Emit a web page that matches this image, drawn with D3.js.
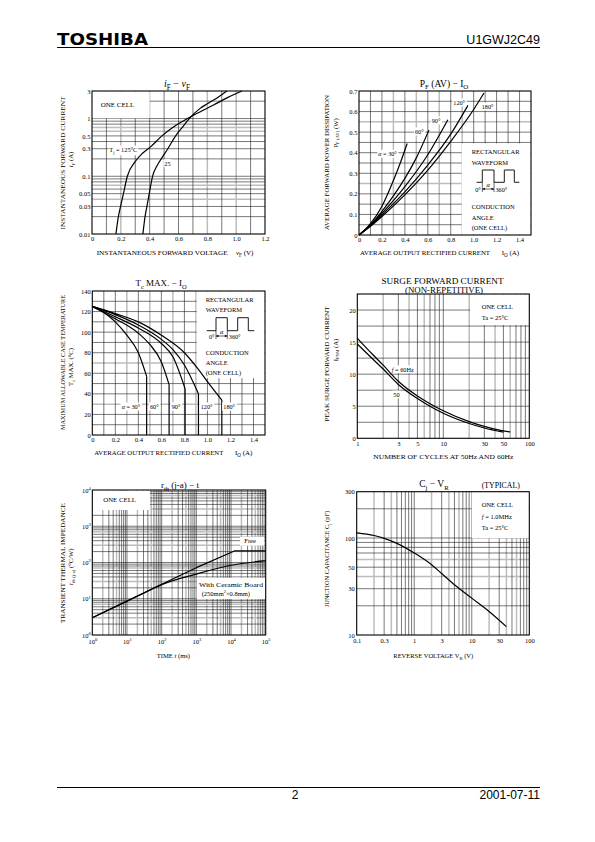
<!DOCTYPE html>
<html><head><meta charset="utf-8">
<script src="https://cdn.jsdelivr.net/npm/d3@7"></script>
<style>body{margin:0;background:#fff}svg{display:block}</style>
</head><body>
<svg id="page" width="595" height="842"></svg>
<script>
// ---------------- DATA ----------------
// Chart 1: iF - vF
const ifvfXTicks = [0, 0.2, 0.4, 0.6, 0.8, 1.0, 1.2];
const ifvfXLabels = ["0", "0.2", "0.4", "0.6", "0.8", "1.0", "1.2"];
const ifvfYTicks = [0.01, 0.03, 0.05, 0.1, 0.3, 0.5, 1, 3];
const ifvfYLabels = ["0.01", "0.03", "0.05", "0.1", "0.3", "0.5", "1", "3"];
const ifvfGridX = [0.1, 0.3, 0.4, 0.5, 0.6, 0.7, 0.9, 1.1];
const ifvfGridXGray = [0.2, 0.8, 1.0];
const ifvfGridY = [0.02, 0.03, 0.05, 0.06, 0.08, 0.09, 0.1, 0.2, 0.3, 0.4, 0.5, 0.8, 0.9, 1, 2];
const ifvfGridYGray = [0.04, 0.07, 0.6, 0.7];
const ifvfTj125 = [[0.166,0.01],[0.183,0.02],[0.198,0.03],[0.218,0.05],[0.245,0.1],[0.30,0.18],[0.35,0.25],[0.404,0.32],[0.485,0.5],[0.56,0.7],[0.63,0.9],[0.72,1.2],[0.84,1.7],[0.94,2.3],[1.04,3.0]];
const ifvfTj25 = [[0.353,0.01],[0.368,0.02],[0.381,0.03],[0.397,0.05],[0.42,0.1],[0.45,0.15],[0.48,0.2],[0.526,0.3],[0.58,0.5],[0.635,0.75],[0.675,1.0],[0.75,1.5],[0.80,1.8],[0.87,2.3],[0.935,3.0]];

// Chart 2: PF(AV) - IO
const pfXTicks = [0, 0.2, 0.4, 0.6, 0.8, 1.0, 1.2, 1.4];
const pfXLabels = ["0", "0.2", "0.4", "0.6", "0.8", "1.0", "1.2", "1.4"];
const pfYTicks = [0, 0.1, 0.2, 0.3, 0.4, 0.5, 0.6, 0.7];
const pfYLabels = ["0", "0.1", "0.2", "0.3", "0.4", "0.5", "0.6", "0.7"];
const pfGridX = [0.1, 0.2, 0.4, 0.6, 0.8, 1.0, 1.1, 1.2, 1.3, 1.4];
const pfGridXGray = [0.3, 0.5, 0.7, 0.9];
const pfGridY = [0.05, 0.1, 0.15, 0.2, 0.3, 0.35, 0.4, 0.45, 0.5, 0.6, 0.65];
const pfGridYGray = [0.25, 0.55];
const pf30 = [[0,0],[0.1,0.055],[0.2,0.14],[0.3,0.265],[0.36,0.35],[0.42,0.445]];
const pf60 = [[0,0],[0.1,0.05],[0.2,0.115],[0.3,0.19],[0.4,0.275],[0.5,0.375],[0.61,0.51]];
const pf90 = [[0,0],[0.1,0.047],[0.2,0.105],[0.4,0.235],[0.6,0.39],[0.775,0.56]];
const pf120 = [[0,0],[0.1,0.045],[0.2,0.098],[0.4,0.21],[0.6,0.34],[0.8,0.49],[0.95,0.63]];
const pf180 = [[0,0],[0.1,0.042],[0.2,0.09],[0.4,0.195],[0.6,0.315],[0.8,0.455],[1.0,0.61],[1.09,0.69]];

// Chart 3: Tc max - IO
const tcXTicks = [0, 0.2, 0.4, 0.6, 0.8, 1.0, 1.2, 1.4];
const tcXLabels = ["0", "0.2", "0.4", "0.6", "0.8", "1.0", "1.2", "1.4"];
const tcYTicks = [0, 20, 40, 60, 80, 100, 120, 140];
const tcYLabels = ["0", "20", "40", "60", "80", "100", "120", "140"];
const tcGridX = [0.1, 0.2, 0.4, 0.6, 0.8, 1.0, 1.1, 1.2, 1.3, 1.4];
const tcGridXGray = [0.3, 0.5, 0.7, 0.9];
const tcGridY = [10, 20, 40, 50, 60, 80, 90, 100, 110, 120, 130];
const tcGridYGray = [30, 70];
const tc30 = [[0,125],[0.1,119],[0.2,110],[0.3,97],[0.4,80],[0.472,57]];
const tc60 = [[0,125],[0.2,113],[0.4,99],[0.5,88],[0.6,71],[0.667,49]];
const tc90 = [[0,125],[0.2,115],[0.4,104],[0.6,89],[0.7,76],[0.806,45]];
const tc120 = [[0,125],[0.2,117],[0.4,107],[0.6,93],[0.7,83],[0.8,68],[0.922,40]];
const tc180 = [[0,125],[0.2,118],[0.4,110],[0.6,97],[0.8,80],[0.92,64],[1.0,52],[1.125,34]];

// Chart 4: Surge forward current
const surgeXTicks = [1, 3, 5, 10, 30, 50, 100];
const surgeXLabels = ["1", "3", "5", "10", "30", "50", "100"];
const surgeYTicks = [0, 5, 10, 15, 20];
const surgeYLabels = ["0", "5", "10", "15", "20"];
const surgeGridX = [3, 5, 7, 8, 9, 10, 30, 50, 70, 80, 90];
const surgeGridXGray = [2, 4, 6, 20, 40, 60];
const surgeGridY = [2.5, 5, 7.5, 10, 12.5, 15, 17.5, 20];
const surge60 = [[1,15.6],[1.5,13.1],[2,11.4],[3,8.9],[5,6.6],[7,5.4],[10,4.3],[20,2.6],[30,1.85],[50,1.15],[60,1.0]];
const surge50 = [[1,14.7],[1.5,12.4],[2,10.8],[3,8.4],[5,6.2],[7,5.0],[10,3.9],[20,2.3],[30,1.6],[50,0.95]];

// Chart 5: rth(j-a) - t
const rthXTicks = [1, 10, 100, 1000, 10000, 100000];
const rthXExp = ["0", "1", "2", "3", "4", "5"];
const rthYTicks = [1, 10, 100, 1000, 10000];
const rthYExp = ["0", "1", "2", "3", "4"];
const rthDecadesX = [1, 10, 100, 1000, 10000];
const rthDecadesY = [1, 10, 100, 1000];
const rthFree = [[1,3.0],[10,8.6],[100,25],[1000,72],[13000,210],[100000,210]];
const rthCeramic = [[1,3.0],[10,8.6],[50,18],[100,24.5],[1000,48],[10000,84],[100000,112]];

// Chart 6: Cj - VR
const cjXTicks = [0.1, 0.3, 1, 3, 10, 30, 100];
const cjXLabels = ["0.1", "0.3", "1", "3", "10", "30", "100"];
const cjYTicks = [10, 30, 50, 100, 300];
const cjYLabels = ["10", "30", "50", "100", "300"];
const cjGridX = [0.3, 0.5, 0.6, 0.7, 0.8, 0.9, 1, 3, 5, 7, 8, 9, 10, 30, 50, 70, 80, 90];
const cjGridXGray = [0.2, 0.4, 2, 4, 6, 20, 40, 60];
const cjGridY = [20, 30, 50, 70, 80, 90, 100, 200];
const cjGridYGray = [40, 60];
const cjCurve = [[0.1,113],[0.2,106],[0.3,99],[0.5,88],[1,70],[2,53],[3,43],[5,33],[10,24],[20,17.5],[40,12.2]];

// ---------------- DRAWING ----------------
const svg = d3.select('#page');
const SERIF = '"Liberation Serif","DejaVu Serif",serif';
const SANS = '"Liberation Sans","DejaVu Sans",sans-serif';

function txt(parent, x, y, parts, opt = {}) {
  const fs = opt.size || 6.5;
  const t = parent.append('text').attr('x', x).attr('y', y)
    .attr('font-family', opt.family || SERIF).attr('font-size', fs)
    .attr('text-anchor', opt.anchor || 'start').attr('fill', '#000');
  if (opt.weight) t.attr('font-weight', opt.weight);
  if (opt.rotate) t.attr('transform', `rotate(-90,${x},${y})`);
  if (opt.len) t.attr('textLength', opt.len).attr('lengthAdjust', 'spacingAndGlyphs');
  if (typeof parts === 'string') parts = [[parts]];
  let shift = 0;
  parts.forEach(([s, k]) => {
    const sp = t.append('tspan').text(s);
    let target = 0;
    if (k && k.indexOf('sub') >= 0) { target = fs * 0.3; sp.attr('font-size', fs * 0.72); }
    if (k && k.indexOf('sup') >= 0) { target = -fs * 0.4; sp.attr('font-size', fs * 0.68); }
    if (k && k[0] === 'i') sp.attr('font-style', 'italic');
    if (target !== shift) { sp.attr('dy', target - shift); shift = target; }
  });
  return t;
}
function bg(g, t, pad) {
  const b = t.node().getBBox();
  const p = pad == null ? 1 : pad;
  g.insert('rect', () => t.node()).attr('x', b.x - p).attr('y', b.y - p * 0.5)
    .attr('width', b.width + 2 * p).attr('height', b.height + p).attr('fill', '#fff');
}

function chart(o) {
  const g = svg.append('g');
  const x = (o.xlog ? d3.scaleLog() : d3.scaleLinear()).domain(o.xd).range([o.l, o.r]);
  const y = (o.ylog ? d3.scaleLog() : d3.scaleLinear()).domain(o.yd).range([o.b, o.t]);
  const gg = g.append('g');
  const vl = vals => gg.append('g').selectAll('line').data(vals).join('line')
    .attr('x1', d => x(d)).attr('x2', d => x(d)).attr('y1', o.t).attr('y2', o.b);
  const hl = vals => gg.append('g').selectAll('line').data(vals).join('line')
    .attr('y1', d => y(d)).attr('y2', d => y(d)).attr('x1', o.l).attr('x2', o.r);
  vl(o.gxg || []).attr('stroke', '#bdbdbd').attr('stroke-width', 1.5);
  hl(o.gyg || []).attr('stroke', '#bdbdbd').attr('stroke-width', 1.5);
  vl(o.gx).attr('stroke', '#1e1e1e').attr('stroke-width', 0.6);
  hl(o.gy).attr('stroke', '#1e1e1e').attr('stroke-width', 0.6);
  (o.boxes || []).forEach(b => g.append('rect').attr('x', b[0]).attr('y', b[1])
    .attr('width', b[2] - b[0]).attr('height', b[3] - b[1]).attr('fill', '#fff'));
  g.append('rect').attr('x', o.l).attr('y', o.t).attr('width', o.r - o.l).attr('height', o.b - o.t)
    .attr('fill', 'none').attr('stroke', '#000').attr('stroke-width', 1.1);
  const xa = d3.axisBottom(x).tickValues(o.xt).tickSize(0).tickPadding(o.xpad || 2.4)
    .tickFormat((d, i) => o.xl ? o.xl[i] : '');
  const gx = g.append('g').attr('transform', `translate(0,${o.b})`).call(xa);
  gx.select('.domain').remove();
  gx.selectAll('text').attr('font-family', SERIF).attr('font-size', 6.5).attr('fill', '#000');
  const ya = d3.axisLeft(y).tickValues(o.yt).tickSize(0).tickPadding(o.ypad || 1.6)
    .tickFormat((d, i) => o.yl ? o.yl[i] : '');
  const gy = g.append('g').attr('transform', `translate(${o.l},0)`).call(ya);
  gy.select('.domain').remove();
  gy.selectAll('text').attr('font-family', SERIF).attr('font-size', 6.5).attr('fill', '#000');
  return { g, x, y, gx, gy };
}
function plot(c, data, interp, w) {
  return c.g.append('path').datum(data)
    .attr('d', d3.line().x(d => c.x(d[0])).y(d => c.y(d[1])).curve(interp || d3.curveMonotoneX))
    .attr('fill', 'none').attr('stroke', '#000').attr('stroke-width', w || 1.2).attr('stroke-linejoin', 'round');
}
function waveform(g, x0, base, top, xs, arrowY) {
  const p = d3.path();
  p.moveTo(x0, base); p.lineTo(xs[0], base); p.lineTo(xs[0], top); p.lineTo(xs[1], top); p.lineTo(xs[1], base);
  p.lineTo(xs[2], base); p.lineTo(xs[2], top); p.lineTo(xs[3], top); p.lineTo(xs[3], base); p.lineTo(xs[4], base);
  g.append('path').attr('d', p.toString()).attr('fill', 'none').attr('stroke', '#000').attr('stroke-width', 0.9);
  g.append('line').attr('x1', xs[0]).attr('x2', xs[0]).attr('y1', base).attr('y2', arrowY + 3).attr('stroke', '#000').attr('stroke-width', 0.6);
  g.append('line').attr('x1', xs[1]).attr('x2', xs[1]).attr('y1', base).attr('y2', arrowY + 3).attr('stroke', '#000').attr('stroke-width', 0.6);
  g.append('line').attr('x1', xs[0]).attr('x2', xs[1]).attr('y1', arrowY).attr('y2', arrowY).attr('stroke', '#000').attr('stroke-width', 0.6);
  g.append('path').attr('d', `M${xs[0]},${arrowY}l2.5,-1.2v2.4z M${xs[1]},${arrowY}l-2.5,-1.2v2.4z`).attr('fill', '#000');
  txt(g, xs[0] - 1.5, arrowY + 3, '0°', { anchor: 'end', size: 6.2 });
  txt(g, (xs[0] + xs[1]) / 2, arrowY - 2, [['α', 'i']], { anchor: 'middle', size: 6.5 });
  txt(g, xs[1] + 1.5, arrowY + 3, '360°', { size: 6.2 });
}

// ---- Header / footer ----
txt(svg, 57, 45, 'TOSHIBA', { family: '"DejaVu Sans",sans-serif', weight: 'bold', size: 16.5, len: 91 });
svg.append('line').attr('x1', 57).attr('x2', 540).attr('y1', 47.5).attr('y2', 47.5).attr('stroke', '#000').attr('stroke-width', 1);
txt(svg, 540, 44, 'U1GWJ2C49', { family: SANS, size: 12.5, anchor: 'end' });
svg.append('line').attr('x1', 57).attr('x2', 540).attr('y1', 787.5).attr('y2', 787.5).attr('stroke', '#000').attr('stroke-width', 1);
txt(svg, 295, 799, '2', { family: SANS, size: 12, anchor: 'middle' });
txt(svg, 540, 799, '2001-07-11', { family: SANS, size: 12, anchor: 'end' });

// ---- Chart 1 ----
{
  const c = chart({ l: 92, r: 265, t: 91, b: 234, xd: [0, 1.2], yd: [0.01, 3], ylog: true,
    gx: ifvfGridX, gxg: ifvfGridXGray, gy: ifvfGridY, gyg: ifvfGridYGray,
    xt: ifvfXTicks, xl: ifvfXLabels, yt: ifvfYTicks, yl: ifvfYLabels,
    boxes: [[92.5, 91.5, 149.7, 118.3]] });
  plot(c, ifvfTj125); plot(c, ifvfTj25);
  txt(svg, 177, 86.5, [['i', 'i'], ['F', 'sub'], ['  −  '], ['v', 'i'], ['F', 'sub']], { size: 10, anchor: 'middle' });
  txt(svg, 100.7, 107, 'ONE CELL', { size: 7 });
  const t1 = txt(c.g, 109.3, 152, [['T'], ['j', 'sub'], [' = 125°C']], { size: 6.3 }); bg(c.g, t1, 0.8);
  const t2 = txt(c.g, 164.3, 165.7, '25', { size: 6.3 }); bg(c.g, t2, 0.8);
  txt(svg, 96.7, 255, 'INSTANTANEOUS FORWARD VOLTAGE', { size: 6.4, len: 131 });
  txt(svg, 236, 255, [['v', 'i'], ['F', 'sub'], ['   (V)']], { size: 7 });
  txt(svg, 64.5, 163, 'INSTANTANEOUS FORWARD CURRENT', { size: 6.4, rotate: true, anchor: 'middle', len: 133 });
  txt(svg, 73, 159.5, [['i', 'i'], ['F', 'sub'], ['    (A)']], { size: 6.6, rotate: true, anchor: 'middle' });
}

// ---- Chart 2 ----
{
  const c = chart({ l: 359, r: 531, t: 91, b: 235, xd: [0, 1.5], yd: [0, 0.7],
    gx: pfGridX, gxg: pfGridXGray, gy: pfGridY, gyg: pfGridYGray,
    xt: pfXTicks, xl: pfXLabels, yt: pfYTicks, yl: pfYLabels,
    boxes: [[461.7, 143.3, 530.5, 234.5]] });
  [pf30, pf60, pf90, pf120, pf180].forEach(s => plot(c, s));
  [['α = 30°', 378.3, 156.3], ['60°', 415, 134], ['90°', 431.7, 123], ['120°', 453.3, 105], ['180°', 481.7, 109]]
    .forEach(([s, x, y]) => { const t = txt(c.g, x, y, s.indexOf('α') === 0 ? [['α', 'i'], [s.slice(1)]] : s, { size: 6.2 }); bg(c.g, t, 1); });
  txt(svg, 444, 86.5, [['P'], ['F', 'sub'], [' (AV)  −  I'], ['O', 'sub']], { size: 9.5, anchor: 'middle' });
  txt(c.g, 471.7, 154, 'RECTANGULAR', { size: 6.5 });
  txt(c.g, 471.7, 165, 'WAVEFORM', { size: 6.5 });
  waveform(c.g, 476.7, 182.3, 170, [482.3, 494, 504.3, 514.3, 519.3], 189);
  txt(c.g, 471.7, 209, 'CONDUCTION', { size: 6.5 });
  txt(c.g, 471.7, 219.5, 'ANGLE', { size: 6.5 });
  txt(c.g, 471.7, 230, '(ONE CELL)', { size: 6.5 });
  txt(svg, 360, 255, 'AVERAGE OUTPUT RECTIFIED CURRENT', { size: 6.4, len: 130 });
  txt(svg, 501.7, 255, [['I'], ['O', 'sub'], ['   (A)']], { size: 7 });
  txt(svg, 329, 162.5, 'AVERAGE FORWARD POWER DISSIPATION', { size: 6.4, rotate: true, anchor: 'middle', len: 135 });
  txt(svg, 337.5, 133, [['P'], ['F (AV)', 'sub'], ['    (W)']], { size: 6.6, rotate: true, anchor: 'middle' });
}

// ---- Chart 3 ----
{
  const c = chart({ l: 92.3, r: 265, t: 291, b: 435, xd: [0, 1.5], yd: [0, 140],
    gx: tcGridX, gxg: tcGridXGray, gy: tcGridY, gyg: tcGridYGray,
    xt: tcXTicks, xl: tcXLabels, yt: tcYTicks, yl: tcYLabels,
    boxes: [[196.7, 291.5, 264.5, 378]] });
  [tc30, tc60, tc90, tc120, tc180].forEach(s => {
    plot(c, s);
    const last = s[s.length - 1];
    plot(c, [last, [last[0], 0]], d3.curveLinear);
  });
  [['α = 30°', 121.7, 409], ['60°', 150, 409], ['90°', 171.7, 409], ['120°', 200.7, 409], ['180°', 223.3, 409]]
    .forEach(([s, x, y]) => { const t = txt(c.g, x, y, s.indexOf('α') === 0 ? [['α', 'i'], [s.slice(1)]] : s, { size: 6.2 }); bg(c.g, t, 1.2); });
  txt(svg, 161, 286, [['T'], ['c', 'sub'], [' MAX.  −  I'], ['O', 'sub']], { size: 9, anchor: 'middle' });
  txt(c.g, 205.7, 301.7, 'RECTANGULAR', { size: 6.5 });
  txt(c.g, 205.7, 311.7, 'WAVEFORM', { size: 6.5 });
  waveform(c.g, 206.7, 330.7, 317.7, [216, 227.3, 237.7, 248.3, 254.3], 336);
  txt(c.g, 205.7, 355, 'CONDUCTION', { size: 6.5 });
  txt(c.g, 205.7, 365.3, 'ANGLE', { size: 6.5 });
  txt(c.g, 205.7, 375.3, '(ONE CELL)', { size: 6.5 });
  txt(svg, 94.3, 455, 'AVERAGE OUTPUT RECTIFIED CURRENT', { size: 6.4, len: 129 });
  txt(svg, 235, 455, [['I'], ['O', 'sub'], ['   (A)']], { size: 7 });
  txt(svg, 64.5, 362.5, 'MAXIMUM ALLOWABLE CASE TEMPERATURE', { size: 6.4, rotate: true, anchor: 'middle', len: 135 });
  txt(svg, 73, 367, [['T'], ['c', 'sub'], [' MAX.    (°C)']], { size: 6.6, rotate: true, anchor: 'middle' });
}

// ---- Chart 4 ----
{
  const c = chart({ l: 357.3, r: 529.3, t: 294, b: 438.3, xd: [1, 100], xlog: true, yd: [0, 22.5],
    gx: surgeGridX, gxg: surgeGridXGray, gy: surgeGridY,
    xt: surgeXTicks, xl: surgeXLabels, yt: surgeYTicks, yl: surgeYLabels, xpad: 3,
    boxes: [[470, 294.5, 529, 325]] });
  plot(c, surge60); plot(c, surge50);
  const t1 = txt(c.g, 391.7, 371.7, [['f', 'i'], [' = 60Hz']], { size: 6.3 }); bg(c.g, t1, 0.8);
  const t2 = txt(c.g, 393.3, 397, '50', { size: 6.3 }); bg(c.g, t2, 0.8);
  txt(c.g, 481.7, 309, 'ONE CELL', { size: 6.5 });
  txt(c.g, 481.7, 320, 'Ta = 25°C', { size: 6.5 });
  txt(svg, 442.5, 284.3, 'SURGE FORWARD CURRENT', { size: 7.6, anchor: 'middle', len: 122 });
  txt(svg, 444, 293, '(NON-REPETITIVE)', { size: 7.2, anchor: 'middle', len: 78 });
  txt(svg, 373.3, 459.3, 'NUMBER OF CYCLES AT 50Hz AND 60Hz', { size: 6.4, len: 140 });
  txt(svg, 329, 364, 'PEAK SURGE FORWARD CURRENT', { size: 6.4, rotate: true, anchor: 'middle', len: 115 });
  txt(svg, 337.5, 350, [['I'], ['FSM', 'sub'], ['    (A)']], { size: 6.6, rotate: true, anchor: 'middle' });
}

// ---- Chart 5 ----
{
  const gridX = [], gridXGray = [];
  rthDecadesX.forEach(d => [2, 3, 4, 5, 6, 7, 8, 9].forEach(m => (m === 2 || m === 5 ? gridXGray : gridX).push(d * m)));
  rthDecadesX.slice(1).forEach(d => gridX.push(d));
  const gridY = [], gridYGray = [];
  rthDecadesY.forEach(d => [2, 3, 4, 5, 6, 7, 8, 9].forEach(m => (m === 3 || m === 7 ? gridYGray : gridY).push(d * m)));
  rthDecadesY.slice(1).forEach(d => gridY.push(d));
  const c = chart({ l: 92.3, r: 265.7, t: 490, b: 635, xd: [1, 100000], xlog: true, yd: [1, 10000], ylog: true,
    gx: gridX, gxg: gridXGray, gy: gridY, gyg: gridYGray,
    xt: rthXTicks, yt: rthYTicks, xpad: 4.2, ypad: 1.6,
    boxes: [[92.8, 490.5, 150, 510], [240, 536.7, 264.3, 545.7], [196.7, 577.7, 265.2, 599]] });
  c.gx.selectAll('text').each(function (d, i) {
    const t = d3.select(this).text('10');
    t.append('tspan').attr('dy', -2.6).attr('font-size', 4.6).text(rthXExp[i]);
  });
  c.gy.selectAll('text').each(function (d, i) {
    const t = d3.select(this).text('10');
    t.append('tspan').attr('dy', -2.6).attr('font-size', 4.6).text(rthYExp[i]);
  });
  plot(c, rthFree, d3.curveLinear); plot(c, rthCeramic);
  txt(c.g, 103.3, 502, 'ONE CELL', { size: 6.8 });
  txt(c.g, 244.3, 543, 'Free', { size: 6.5 });
  txt(c.g, 199, 586.7, 'With Ceramic Board', { size: 6.5, len: 64 });
  txt(c.g, 201.7, 596, [['(250mm'], ['2', 'sup'], ['×0.8mm)']], { size: 6.5 });
  txt(svg, 180, 488, [['r'], ['th', 'sub'], [' (j-a)  −  t']], { size: 9, anchor: 'middle' });
  txt(svg, 156.7, 658, [['TIME    '], ['t', 'i'], ['    (ms)']], { size: 6.6 });
  txt(svg, 64.5, 563, 'TRANSIENT THERMAL IMPEDANCE', { size: 6.4, rotate: true, anchor: 'middle', len: 120 });
  txt(svg, 73, 566.7, [['r'], ['th (j-a)', 'sub'], ['    (°C/W)']], { size: 6.6, rotate: true, anchor: 'middle' });
}

// ---- Chart 6 ----
{
  const c = chart({ l: 356.7, r: 529.3, t: 491.7, b: 635, xd: [0.1, 100], xlog: true, yd: [10, 300], ylog: true,
    gx: cjGridX, gxg: cjGridXGray, gy: cjGridY, gyg: cjGridYGray,
    xt: cjXTicks, xl: cjXLabels, yt: cjYTicks, yl: cjYLabels, xpad: 3.7, ypad: 2,
    boxes: [[471.7, 492.2, 528.8, 538.3]] });
  plot(c, cjCurve);
  txt(c.g, 481.7, 507, 'ONE CELL', { size: 6.5 });
  txt(c.g, 481.7, 519.3, [['f', 'i'], [' = 1.0MHz']], { size: 6.5 });
  txt(c.g, 481.7, 530, 'Ta = 25°C', { size: 6.5 });
  txt(svg, 434, 487, [['C'], ['j', 'sub'], ['  −  V'], ['R', 'sub']], { size: 9.5, anchor: 'middle' });
  txt(svg, 481.7, 487.5, '(TYPICAL)', { size: 7.8 });
  txt(svg, 393.3, 658.3, [['REVERSE VOLTAGE     V'], ['R', 'sub'], ['  (V)']], { size: 6.5 });
  txt(svg, 329, 559, [['JUNCTION CAPACITANCE      C'], ['j', 'sub'], ['      (pF)']], { size: 6.4, rotate: true, anchor: 'middle' });
}
</script>
</body></html>
